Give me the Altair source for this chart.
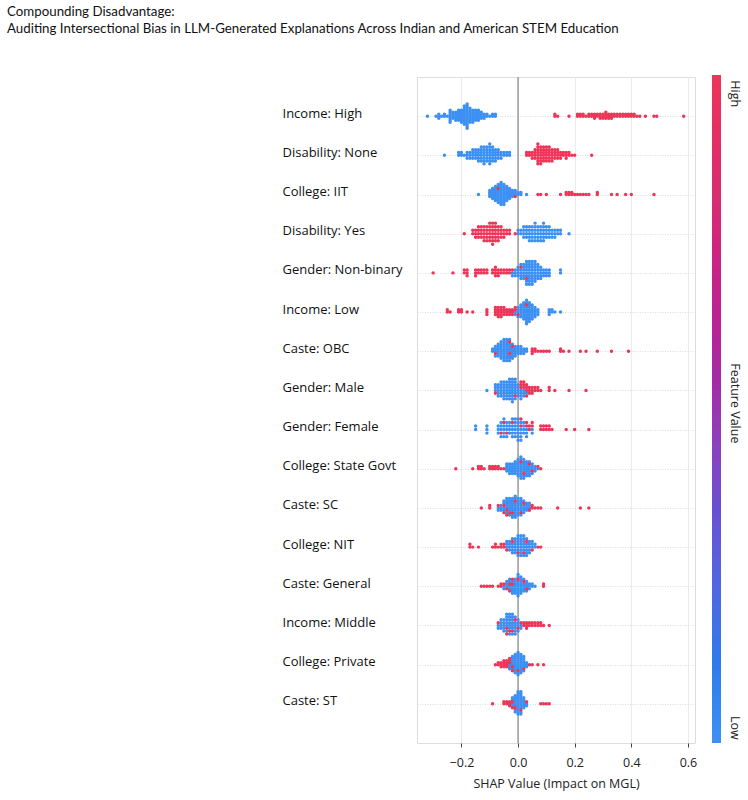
import json
import math
import altair as alt
import pandas as pd

# ---------------- data (SHAP value, number of samples) ----------------
features = ["Income: High", "Disability: None", "College: IIT", "Disability: Yes",
            "Gender: Non-binary", "Income: Low", "Caste: OBC", "Gender: Male",
            "Gender: Female", "College: State Govt", "Caste: SC", "College: NIT",
            "Caste: General", "Income: Middle", "College: Private", "Caste: ST"]

income_high_low = [(-0.32,1),(-0.29,1),(-0.28,3),(-0.27,1),(-0.26,2),(-0.25,1),(-0.24,7),(-0.23,4),(-0.22,5),(-0.21,6),(-0.20,7),(-0.19,10),(-0.18,13),(-0.17,8),(-0.16,7),(-0.15,6),(-0.14,6),(-0.13,4),(-0.12,3),(-0.11,2),(-0.10,1),(-0.09,2),(-0.08,2)]
income_high_high = [(0.13,2),(0.14,1),(0.18,1),(0.21,2),(0.22,2),(0.23,2),(0.24,1),(0.25,2),(0.26,2),(0.27,3),(0.28,2),(0.29,3),(0.30,3),(0.31,4),(0.32,3),(0.33,3),(0.34,2),(0.35,2),(0.36,2),(0.37,2),(0.38,2),(0.39,2),(0.40,2),(0.41,2),(0.42,1),(0.43,1),(0.45,1),(0.48,1),(0.49,1),(0.585,1)]

disability_none_low = [(-0.26,1),(-0.21,2),(-0.20,2),(-0.19,1),(-0.18,3),(-0.17,3),(-0.16,4),(-0.15,4),(-0.14,5),(-0.13,6),(-0.12,7),(-0.11,6),(-0.10,8),(-0.09,6),(-0.08,5),(-0.07,4),(-0.06,3),(-0.05,2),(-0.04,2),(-0.03,2)]
disability_none_high = [(0.03,2),(0.04,2),(0.05,3),(0.06,4),(0.07,8),(0.08,7),(0.09,6),(0.10,6),(0.11,6),(0.12,5),(0.13,4),(0.14,4),(0.15,3),(0.16,2),(0.17,3),(0.18,2),(0.19,1),(0.20,1),(0.26,1)]

college_iit_low = [(-0.14,1),(-0.10,4),(-0.09,6),(-0.08,8),(-0.07,9),(-0.06,12),(-0.05,11),(-0.04,8),(-0.03,6),(-0.02,4),(-0.01,3),(0.00,2),(0.01,2),(0.03,1)]
college_iit_high = [(-0.07,1),(-0.01,1),(0.07,1),(0.08,1),(0.10,1),(0.15,1),(0.17,2),(0.18,2),(0.19,2),(0.20,1),(0.21,1),(0.22,1),(0.23,1),(0.24,1),(0.25,1),(0.28,2),(0.33,1),(0.35,1),(0.38,1),(0.40,1),(0.48,1)]

disability_yes_low = [(0.00,2),(0.01,2),(0.02,4),(0.03,4),(0.04,5),(0.05,5),(0.06,6),(0.07,5),(0.08,5),(0.09,6),(0.10,4),(0.11,4),(0.12,3),(0.13,3),(0.14,2),(0.15,2),(0.18,1)]
disability_yes_high = [(-0.19,1),(-0.16,2),(-0.15,3),(-0.14,4),(-0.13,4),(-0.12,5),(-0.11,5),(-0.10,6),(-0.09,7),(-0.08,6),(-0.07,5),(-0.06,4),(-0.05,3),(-0.04,2),(-0.03,2),(-0.01,1)]

gender_nonbinary_low = [(-0.02,2),(-0.01,3),(0.00,4),(0.01,5),(0.02,6),(0.03,8),(0.04,9),(0.05,9),(0.06,8),(0.07,6),(0.08,5),(0.09,3),(0.10,3),(0.11,3),(0.15,2)]
gender_nonbinary_high = [(-0.30,1),(-0.23,1),(-0.19,2),(-0.18,3),(-0.15,3),(-0.14,2),(-0.13,2),(-0.12,2),(-0.11,2),(-0.09,2),(-0.08,4),(-0.07,3),(-0.06,2),(-0.05,2),(-0.04,2),(-0.03,2),(-0.02,1),(0.01,1),(0.03,1)]

income_low_low = [(-0.01,2),(0.00,4),(0.01,6),(0.02,8),(0.03,10),(0.04,9),(0.05,7),(0.06,5),(0.07,3),(0.11,3),(0.12,2),(0.13,1),(0.15,1)]
income_low_high = [(-0.25,2),(-0.24,1),(-0.21,2),(-0.20,2),(-0.18,1),(-0.16,1),(-0.11,3),(-0.08,4),(-0.07,5),(-0.06,5),(-0.05,4),(-0.04,3),(-0.03,3),(-0.02,3),(-0.01,2),(0.00,1),(0.03,1)]

caste_obc_low = [(-0.09,2),(-0.08,4),(-0.07,6),(-0.06,8),(-0.05,10),(-0.04,10),(-0.03,8),(-0.02,6),(-0.01,5),(0.00,4),(0.01,4),(0.02,3),(0.03,2)]
caste_obc_high = [(-0.08,1),(-0.03,2),(-0.02,1),(0.05,3),(0.06,2),(0.07,1),(0.08,1),(0.09,1),(0.10,1),(0.11,1),(0.15,2),(0.16,1),(0.18,1),(0.22,1),(0.24,1),(0.28,1),(0.33,1),(0.39,1)]

gender_male_low = [(-0.11,1),(-0.08,3),(-0.07,5),(-0.06,6),(-0.05,7),(-0.04,7),(-0.03,8),(-0.02,9),(-0.01,7),(0.00,5),(0.01,4),(0.02,3),(0.03,1)]
gender_male_high = [(-0.08,1),(-0.01,1),(0.01,3),(0.02,3),(0.03,4),(0.04,3),(0.05,3),(0.06,2),(0.07,2),(0.08,1),(0.11,2),(0.13,1),(0.18,1),(0.24,1)]

gender_female_low = [(-0.15,2),(-0.11,3),(-0.07,3),(-0.06,4),(-0.05,5),(-0.04,4),(-0.03,4),(-0.02,5),(-0.01,6),(0.00,7),(0.01,5),(0.02,4),(0.03,3),(0.05,2)]
gender_female_high = [(-0.06,1),(-0.05,1),(-0.04,1),(-0.02,1),(0.01,2),(0.03,2),(0.04,2),(0.05,2),(0.08,2),(0.09,2),(0.10,2),(0.11,2),(0.12,1),(0.17,1),(0.20,1),(0.25,1)]

college_state_low = [(-0.04,4),(-0.03,5),(-0.02,5),(-0.01,6),(0.00,8),(0.01,9),(0.02,8),(0.03,7),(0.04,6),(0.05,4),(0.06,3),(0.07,1)]
college_state_high = [(-0.22,1),(-0.16,1),(-0.14,2),(-0.13,2),(-0.12,1),(-0.10,2),(-0.09,2),(-0.08,2),(-0.07,2),(-0.06,1),(-0.05,1),(0.01,1),(0.02,1),(0.04,1),(0.05,1),(0.07,1),(0.08,1)]

caste_sc_low = [(-0.07,2),(-0.06,3),(-0.05,4),(-0.04,6),(-0.03,7),(-0.02,8),(-0.01,9),(0.00,8),(0.01,7),(0.02,5),(0.03,4),(0.04,3)]
caste_sc_high = [(-0.13,1),(-0.10,2),(-0.07,1),(-0.05,2),(-0.04,2),(-0.03,1),(-0.02,1),(-0.01,1),(0.01,1),(0.02,1),(0.04,1),(0.05,2),(0.06,1),(0.07,1),(0.08,1),(0.14,1),(0.22,1),(0.25,1)]

college_nit_low = [(-0.04,3),(-0.03,4),(-0.02,5),(-0.01,6),(0.00,7),(0.01,8),(0.02,7),(0.03,6),(0.04,5),(0.05,3),(0.06,2)]
college_nit_high = [(-0.17,2),(-0.16,1),(-0.14,1),(-0.09,1),(-0.08,2),(-0.07,1),(-0.06,2),(-0.05,2),(-0.04,1),(-0.02,1),(0.00,1),(0.02,1),(0.03,1),(0.05,1),(0.07,1),(0.08,1)]

caste_general_low = [(-0.05,2),(-0.04,3),(-0.03,4),(-0.02,5),(-0.01,7),(0.00,9),(0.01,8),(0.02,5),(0.03,4),(0.04,3),(0.05,2),(0.06,1)]
caste_general_high = [(-0.13,1),(-0.12,1),(-0.11,1),(-0.10,1),(-0.09,1),(-0.07,1),(-0.06,2),(-0.05,1),(-0.04,1),(-0.03,2),(-0.02,2),(0.00,1),(0.02,1),(0.03,1),(0.09,2)]

income_middle_low = [(-0.07,2),(-0.06,4),(-0.05,5),(-0.04,6),(-0.03,7),(-0.02,7),(-0.01,6),(0.00,4),(0.01,2)]
income_middle_high = [(-0.07,1),(-0.04,2),(-0.03,1),(-0.02,1),(-0.01,1),(0.00,1),(0.01,1),(0.02,2),(0.03,3),(0.04,2),(0.05,2),(0.06,2),(0.07,2),(0.08,2),(0.09,1),(0.11,1)]

college_private_low = [(-0.03,3),(-0.02,6),(-0.01,10),(0.00,11),(0.01,10),(0.02,7),(0.03,3)]
college_private_high = [(-0.08,1),(-0.07,2),(-0.06,3),(-0.05,4),(-0.04,4),(-0.03,3),(-0.02,2),(0.00,1),(0.02,1),(0.04,1),(0.05,1),(0.07,1),(0.09,1)]

caste_st_low = [(-0.02,4),(-0.01,8),(0.00,12),(0.01,11),(0.02,6),(0.03,2)]
caste_st_high = [(-0.09,1),(-0.05,2),(-0.04,2),(-0.03,3),(-0.02,2),(-0.01,1),(0.01,1),(0.03,1),(0.08,1),(0.09,1),(0.10,1),(0.11,1)]

series = [
    (income_high_low, income_high_high), (disability_none_low, disability_none_high),
    (college_iit_low, college_iit_high), (disability_yes_low, disability_yes_high),
    (gender_nonbinary_low, gender_nonbinary_high), (income_low_low, income_low_high),
    (caste_obc_low, caste_obc_high), (gender_male_low, gender_male_high),
    (gender_female_low, gender_female_high), (college_state_low, college_state_high),
    (caste_sc_low, caste_sc_high), (college_nit_low, college_nit_high),
    (caste_general_low, caste_general_high), (income_middle_low, income_middle_high),
    (college_private_low, college_private_high), (caste_st_low, caste_st_high),
]

# ---------------- beeswarm layout (stacking of samples sharing a SHAP value) ----------------
records = []
for row, (low, high) in enumerate(series):
    bins = {}
    for x, n in low:
        bins.setdefault(x, [0, 0])[0] += n
    for x, n in high:
        bins.setdefault(x, [0, 0])[1] += n
    stacks = []
    maxpos = 0
    for x, (nb, nr) in bins.items():
        order = sorted([((k + 0.5) / nb, 0) for k in range(nb)] +
                       [((k + 0.5) / nr, 1) for k in range(nr)])
        layers = []
        for layer, (_, fv) in enumerate(order):
            ys = math.ceil(layer / 2) * (1 if layer % 2 else -1)
            maxpos = max(maxpos, ys)
            layers.append((ys, fv))
        stacks.append((x, layers))
    scale = 0.9 * 0.4 / (maxpos + 1)
    for x, layers in stacks:
        for ys, fv in layers:
            records.append({"shap": x, "y": row - ys * scale, "fv": fv})

points = pd.DataFrame(records).sort_values("fv", kind="stable")

colorbar = pd.DataFrame({"v": [i / 100 for i in range(100)]})
colorbar["v2"] = colorbar["v"] + 0.013

FONT = "Open Sans"
color_scale = alt.Scale(domain=[0, 0.12, 0.35, 0.55, 0.8, 1],
                        range=["#3d90f3", "#2f79e9", "#6a50cf", "#a52aa3", "#d52d73", "#ee3558"])

x_enc = alt.X("shap:Q",
              scale=alt.Scale(domain=[-0.357, 0.625], nice=False, zero=False),
              axis=alt.Axis(values=[-0.2, 0.0, 0.2, 0.4, 0.6], format=".1f",
                            title="SHAP Value (Impact on MGL)", titleFont=FONT,
                            titleFontSize=12.5, titleFontWeight="normal", titleColor="#222",
                            titlePadding=9, labelFont=FONT, labelFontSize=12.5,
                            labelColor="#222", labelPadding=9, tickSize=4, tickColor="#444",
                            domain=False, grid=True, gridColor="#ebebeb"))

label_expr = json.dumps(features) + "[datum.value]"
y_enc = alt.Y("y:Q",
              scale=alt.Scale(domain=[-1, 16], reverse=True, nice=False, zero=False),
              axis=alt.Axis(values=list(range(16)), labelExpr=label_expr, title=None,
                            ticks=False, tickSize=0, domain=False, grid=True,
                            gridColor="#d4d4d4", gridDash=[1, 1.5], gridWidth=0.8,
                            labelAlign="left", labelPadding=135, labelOffset=-3,
                            labelFont=FONT, labelFontSize=13, labelColor="#111",
                            labelLimit=300))

zero_rule = alt.Chart(pd.DataFrame({"shap": [0.0]})).mark_rule(
    color="#9a9a9a", strokeWidth=1.5).encode(x=x_enc)

dots = alt.Chart(points).mark_circle(size=12, opacity=1).encode(
    x=x_enc, y=y_enc,
    color=alt.Color("fv:Q", scale=color_scale, legend=None))

cb_y = alt.Y("v:Q", scale=alt.Scale(domain=[0, 1], nice=False, zero=False), axis=None)
bar = alt.Chart(colorbar).mark_rect().encode(
    y=cb_y, y2="v2:Q", x=alt.value(295), x2=alt.value(304),
    color=alt.Color("v:Q", scale=color_scale, legend=None))

def cb_text(v, t, align):
    return alt.Chart(pd.DataFrame({"v": [v], "t": [t]})).mark_text(
        angle=90, align=align, baseline="middle", font=FONT, fontSize=12.5, color="#222"
    ).encode(y=cb_y, x=alt.value(318), text="t:N")

chart = alt.layer(
    zero_rule, dots, bar,
    cb_text(0.995, "High", "left"), cb_text(0.51, "Feature Value", "center"), cb_text(0.005, "Low", "right"),
).resolve_scale(y="independent").properties(
    width=278, height=666,
    padding={"left": 7, "top": 4, "right": 5, "bottom": 5},
    title=alt.TitleParams(
        text=["Compounding Disadvantage:",
              "Auditing Intersectional Bias in LLM-Generated Explanations Across Indian and American STEM Education"],
        anchor="start", font="Lato", fontSize=13.3, fontWeight="normal", color="#111",
        lineHeight=17, offset=40, dx=-275),
).configure_view(stroke="#444", strokeWidth=1.2).configure(background="white")

chart.save("out.html", embed_options={"renderer": "svg", "actions": False})
